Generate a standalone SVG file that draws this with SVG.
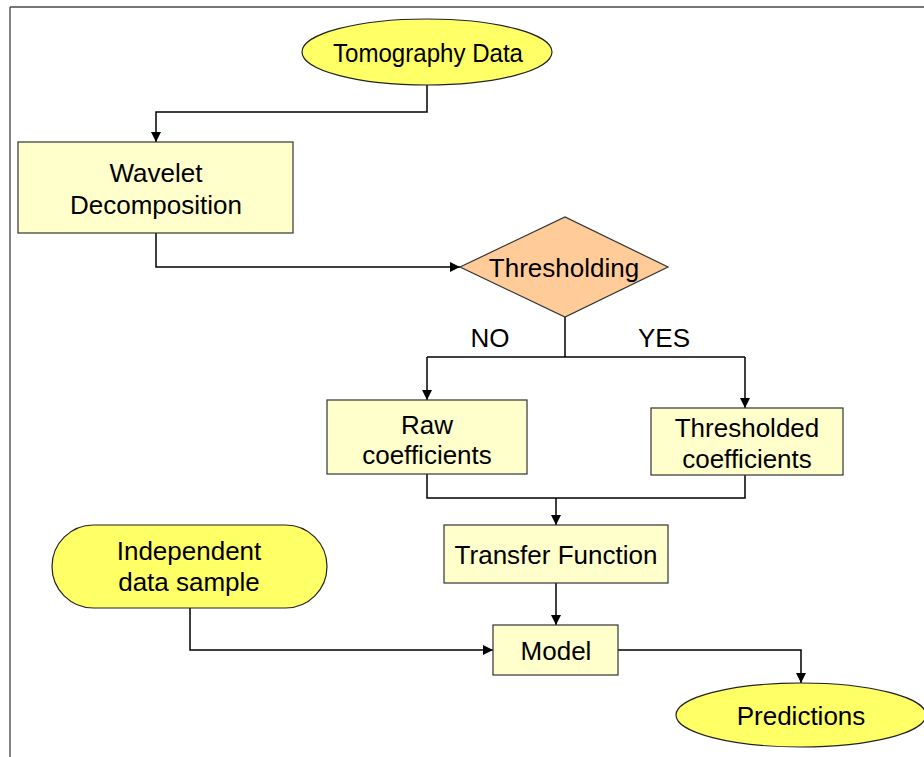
<svg xmlns="http://www.w3.org/2000/svg" width="924" height="757" viewBox="0 0 924 757">
<defs>
<marker id="arr" viewBox="0 0 10 10" refX="10" refY="5" markerWidth="10" markerHeight="10" markerUnits="userSpaceOnUse" orient="auto">
<path d="M0,0 L10,5 L0,10 z" fill="#000"/>
</marker>
</defs>
<style>
.box{fill:#FFFFCC;stroke:#333;stroke-width:1.2}
.term{fill:#FFFF66;stroke:#222;stroke-width:1.2}
.dec{fill:#FFCC99;stroke:#333;stroke-width:1.2}
.t{font-family:"Liberation Sans",Arial,sans-serif;font-size:26px;fill:#000;text-anchor:middle}
.c{fill:none;stroke:#000;stroke-width:1.5}
</style>
<rect width="924" height="757" fill="#fff"/>
<g id="frame">
<line x1="10" y1="7" x2="924" y2="7" stroke="#777" stroke-width="2"/>
<line x1="10" y1="7" x2="10" y2="757" stroke="#333" stroke-width="1.2"/>
</g>
<g id="connectors">
<path class="c" d="M427,85 V112 H156 V142" marker-end="url(#arr)"/>
<path class="c" d="M156,233 V267 H460" marker-end="url(#arr)"/>
<path class="c" d="M565,317 V357"/>
<path class="c" d="M427,357 H745"/>
<path class="c" d="M427,357 V400" marker-end="url(#arr)"/>
<path class="c" d="M745,357 V408" marker-end="url(#arr)"/>
<path class="c" d="M427,474 V498 H745 V475"/>
<path class="c" d="M556,498 V525" marker-end="url(#arr)"/>
<path class="c" d="M556,583 V625" marker-end="url(#arr)"/>
<path class="c" d="M190,608 V650 H493" marker-end="url(#arr)"/>
<path class="c" d="M618,650 H801 V683" marker-end="url(#arr)"/>
<text class="t" x="490" y="347">NO</text>
<text class="t" x="664" y="347">YES</text>
</g>
<g id="tomography">
<ellipse class="term" cx="427" cy="52" rx="125" ry="33"/>
<text class="t" x="428" y="62" font-size="28" textLength="190" lengthAdjust="spacingAndGlyphs">Tomography Data</text>
</g>
<g id="wavelet">
<rect class="box" x="18" y="142" width="275" height="91"/>
<text class="t" x="156" y="182">Wavelet</text>
<text class="t" x="156" y="214">Decomposition</text>
</g>
<g id="thresholding">
<polygon class="dec" points="460,267 565,217 668,267 565,317"/>
<text class="t" x="564" y="277">Thresholding</text>
</g>
<g id="raw">
<rect class="box" x="327" y="400" width="200" height="74"/>
<text class="t" x="427" y="434">Raw</text>
<text class="t" x="427" y="464">coefficients</text>
</g>
<g id="thresholded">
<rect class="box" x="651" y="408" width="192" height="67"/>
<text class="t" x="747" y="437">Thresholded</text>
<text class="t" x="747" y="468">coefficients</text>
</g>
<g id="transfer">
<rect class="box" x="444" y="525" width="224" height="58"/>
<text class="t" x="556" y="564">Transfer Function</text>
</g>
<g id="independent">
<rect class="term" x="52" y="525" width="275" height="83" rx="41.5" ry="41.5"/>
<text class="t" x="189" y="560">Independent</text>
<text class="t" x="189" y="591">data sample</text>
</g>
<g id="model">
<rect class="box" x="493" y="625" width="125" height="50"/>
<text class="t" x="556" y="660">Model</text>
</g>
<g id="predictions">
<ellipse class="term" cx="801" cy="715" rx="125" ry="32"/>
<text class="t" x="801" y="725">Predictions</text>
</g>
</svg>
